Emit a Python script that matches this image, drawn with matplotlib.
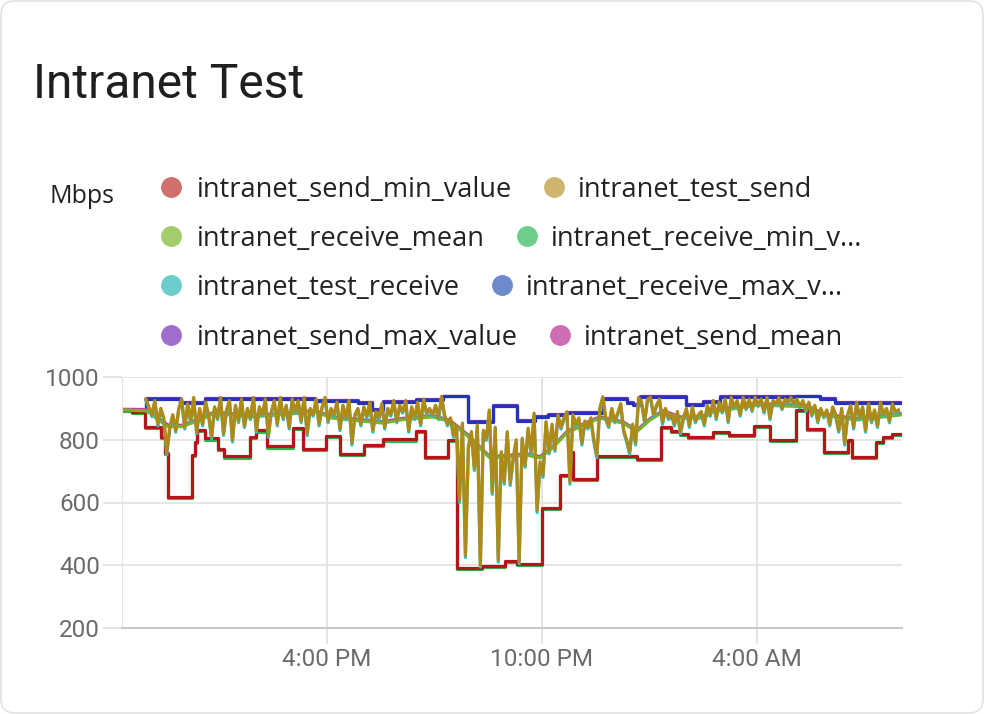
"""Intranet Test throughput chart (Mbps over ~22 hours)."""

import matplotlib

matplotlib.use("Agg")
import matplotlib.pyplot as plt
import matplotlib.dates as mdates
from matplotlib.lines import Line2D
from matplotlib.patches import FancyBboxPatch
import pandas as pd

BASE_DAY = "2024-03-05"

# step series: breakpoints (HH:MM, times before 10:00 belong to the next day)
send_min_times = [
    "10:17", "10:33", "10:55", "11:23", "11:29", "11:34", "12:15", "12:19", "12:22",
    "12:36", "12:57", "13:08", "13:51", "14:02", "14:20", "15:03", "15:20", "15:59",
    "16:22", "17:02", "17:34", "18:30", "18:44", "19:23", "19:38", "20:19", "20:59",
    "21:18", "22:00", "22:31", "22:47", "22:52", "23:32", "00:39", "01:20", "01:37",
    "01:51", "02:04", "02:46", "03:13", "03:55", "04:22", "05:05", "05:24", "05:52",
    "06:32", "06:39", "07:20", "07:31", "07:46", "08:00",
]
send_min_value = [
    895, 889, 842, 809, 757, 617, 751, 794, 831,
    804, 770, 747, 810, 830, 779, 838, 771, 812,
    754, 783, 801, 829, 746, 799, 391, 397, 413,
    404, 582, 688, 762, 675, 748, 739, 842, 829,
    818, 808, 826, 815, 844, 799, 895, 834, 762,
    799, 746, 794, 809, 818, 818,
]
receive_min_value = [
    893, 886, 838, 805, 753, 613, 747, 790, 827,
    800, 766, 743, 806, 826, 775, 834, 767, 808,
    750, 779, 797, 825, 742, 795, 388, 393, 409,
    400, 578, 684, 758, 671, 744, 735, 838, 825,
    814, 804, 822, 811, 840, 795, 891, 830, 758,
    795, 742, 790, 805, 814, 814,
]

max_times = [
    "10:17", "10:58", "11:54", "12:36", "15:40", "16:52", "17:15", "17:34", "18:30",
    "19:14", "19:57", "20:38", "21:18", "21:48", "22:10", "22:41", "23:42", "00:22",
    "00:32", "00:44", "02:02", "02:30", "02:58", "05:06", "05:45", "06:11", "08:00",
]
receive_max_value = [
    895, 930, 918, 930, 924, 918, 895, 921, 927,
    939, 858, 909, 861, 872, 879, 886, 930, 918,
    911, 936, 911, 921, 935, 939, 929, 916, 916,
]
send_max_value = [
    897, 933, 921, 933, 927, 921, 898, 924, 930,
    941, 861, 912, 864, 875, 882, 889, 933, 921,
    914, 939, 914, 924, 938, 941, 932, 919, 919,
]

# mean series: points joined by straight segments
mean_times = [
    "10:17", "10:57", "11:04", "11:20", "11:34", "11:57", "12:27", "12:52", "13:48",
    "14:45", "15:40", "16:10", "17:07", "17:34", "18:02", "18:57", "19:26", "19:54",
    "20:33", "21:35", "21:57", "22:18", "22:42", "23:04", "23:37", "00:16", "00:39",
    "01:01", "01:23", "01:51", "02:30", "02:46", "03:43", "04:00", "05:24", "05:51",
    "06:47", "08:00",
]
receive_mean = [
    895, 892, 885, 860, 842, 842, 862, 885, 873,
    880, 889, 869, 858, 853, 863, 873, 858, 815,
    742, 751, 742, 774, 822, 842, 869, 853, 826,
    863, 889, 869, 869, 889, 905, 911, 905, 879,
    863, 879,
]
send_mean = [
    897, 896, 889, 865, 847, 846, 866, 889, 877,
    884, 893, 873, 862, 857, 867, 877, 862, 819,
    746, 755, 746, 778, 826, 846, 873, 857, 830,
    867, 893, 873, 873, 893, 909, 915, 909, 883,
    867, 883,
]

# test samples every 5 minutes starting 10:57
test_start = "10:57"
test_send = [
    930, 905, 880, 925, 850, 900, 870, 760, 840, 880, 830, 900,
    930, 840, 915, 860, 935, 825, 900, 850, 920, 880, 810, 905,
    870, 935, 820, 895, 925, 800, 910, 860, 930, 845, 900, 870,
    935, 830, 905, 880, 930, 815, 890, 925, 850, 935, 870, 910,
    840, 930, 890, 925, 860, 935, 820, 900, 880, 930, 850, 905,
    935, 860, 900, 880, 920, 835, 910, 870, 925, 790, 880, 900,
    850, 905, 875, 920, 830, 890, 870, 915, 840, 900, 880, 925,
    860, 910, 890, 925, 830, 905, 870, 920, 850, 930, 885, 900,
    880, 910, 870, 938, 880, 850, 870, 815, 845, 608, 853, 433,
    780, 826, 710, 847, 401, 830, 805, 895, 634, 840, 417, 762,
    666, 826, 662, 742, 800, 412, 805, 720, 837, 760, 885, 576,
    730, 688, 858, 762, 850, 770, 879, 840, 870, 889, 666, 880,
    850, 870, 790, 860, 840, 870, 800, 751, 900, 937, 870, 845,
    900, 860, 885, 915, 830, 800, 762, 850, 790, 935, 920, 860,
    930, 935, 880, 910, 930, 855, 900, 870, 880, 850, 890, 826,
    870, 900, 845, 905, 860, 880, 890, 850, 910, 880, 925, 870,
    920, 890, 930, 860, 935, 905, 925, 880, 935, 900, 930, 895,
    935, 910, 930, 890, 935, 870, 925, 915, 935, 900, 930, 920,
    935, 915, 930, 905, 925, 895, 920, 880, 910, 860, 900, 875,
    895, 850, 905, 880, 830, 900, 790, 880, 910, 840, 920, 870,
    905, 830, 915, 860, 895, 845, 920, 880, 900, 860, 915, 890, 895,
]
test_receive = [
    926, 900, 874, 921, 844, 896, 864, 752, 834, 876, 824, 896,
    926, 834, 911, 855, 931, 819, 896, 844, 916, 875, 803, 901,
    864, 931, 814, 891, 921, 793, 906, 854, 926, 839, 896, 864,
    931, 824, 901, 875, 926, 808, 886, 921, 844, 931, 864, 906,
    834, 926, 885, 921, 854, 931, 813, 896, 875, 926, 844, 901,
    931, 854, 896, 875, 916, 829, 906, 864, 921, 783, 875, 896,
    844, 901, 869, 916, 824, 885, 864, 911, 834, 896, 875, 921,
    854, 906, 885, 921, 824, 901, 864, 916, 844, 926, 880, 896,
    875, 906, 864, 934, 875, 844, 864, 808, 839, 600, 848, 425,
    773, 820, 702, 842, 394, 824, 798, 891, 626, 834, 410, 755,
    658, 820, 654, 735, 793, 405, 798, 712, 831, 753, 880, 568,
    722, 680, 853, 755, 844, 763, 874, 834, 864, 884, 658, 875,
    844, 864, 783, 854, 834, 864, 793, 743, 896, 933, 864, 839,
    896, 854, 880, 911, 824, 793, 754, 844, 783, 931, 916, 854,
    926, 931, 875, 906, 926, 849, 896, 864, 875, 844, 885, 819,
    864, 896, 839, 901, 854, 875, 885, 844, 906, 875, 921, 864,
    916, 885, 926, 854, 931, 901, 921, 875, 931, 896, 926, 890,
    931, 906, 926, 885, 931, 864, 921, 911, 931, 896, 926, 916,
    931, 911, 926, 901, 921, 890, 916, 875, 906, 854, 896, 870,
    890, 844, 901, 875, 824, 896, 783, 875, 906, 834, 916, 864,
    901, 824, 911, 854, 890, 839, 916, 875, 896, 854, 911, 885, 890,
]

legend_labels = [
    ("intranet_send_min_value", "intranet_test_send"),
    ("intranet_receive_mean", "intranet_receive_min_v..."),
    ("intranet_test_receive", "intranet_receive_max_v..."),
    ("intranet_send_max_value", "intranet_send_mean"),
]
legend_colors = [
    ("#d0706d", "#cfb46d"),
    ("#a3cd6d", "#6dcd8a"),
    ("#6dcdcd", "#6d8acd"),
    ("#a06dcd", "#cd6db5"),
]

y_ticks = [200, 400, 600, 800, 1000]
x_tick_times = ["16:00", "22:00", "04:00"]


def to_times(labels):
    out = []
    for lab in labels:
        ts = pd.Timestamp(f"{BASE_DAY} {lab}")
        if ts.hour < 10:
            ts += pd.Timedelta(days=1)
        out.append(ts)
    return out


def fmt_time(x, pos=None):
    dt = mdates.num2date(x)
    h = dt.hour % 12 or 12
    return f"{h}:{dt.minute:02d} {'AM' if dt.hour < 12 else 'PM'}"


W, H = 984, 714
fig = plt.figure(figsize=(W / 100, H / 100), dpi=100)
fig.patch.set_facecolor("white")
card = FancyBboxPatch((1, 1), W - 2, H - 2, boxstyle="round,pad=0,rounding_size=14",
                      transform=None, facecolor="none", edgecolor="#e2e2e2",
                      linewidth=1.2, zorder=-1)
fig.add_artist(card)

title_font = ["Roboto", "DejaVu Sans"]
font = ["Open Sans", "DejaVu Sans"]
fig.text(33 / W, 1 - 98 / H, "Intranet Test", fontsize=34.5, color="#1f1f1f",
         family=title_font, va="baseline", ha="left")

ax = fig.add_axes([122 / W, 1 - 628 / H, (902 - 122) / W, (628 - 377) / H])

mt = to_times(max_times)
st = to_times(send_min_times)
mnt = to_times(mean_times)
tt = pd.date_range(f"{BASE_DAY} {test_start}", periods=len(test_send), freq="5min")

lw = 2.3
ax.plot(mt, send_max_value, drawstyle="steps-post", color="#7b2bc0", lw=lw)
ax.plot(mt, receive_max_value, drawstyle="steps-post", color="#2434b8", lw=lw)
ax.plot(st, receive_min_value, drawstyle="steps-post", color="#2fb850", lw=lw)
ax.plot(st, send_min_value, drawstyle="steps-post", color="#b3151b", lw=lw)
ax.plot(mnt, send_mean, color="#c43aa6", lw=lw)
ax.plot(mnt, receive_mean, color="#76b52a", lw=lw)
ax.plot(tt, test_receive, color="#2cc0c4", lw=lw)
ax.plot(tt, test_send, color="#b08a16", lw=lw)

ax.set_ylim(200, 1000)
ax.set_xlim(pd.Timestamp(f"{BASE_DAY} 10:17"), pd.Timestamp(f"{BASE_DAY} 08:03") + pd.Timedelta(days=1))
ax.set_yticks(y_ticks)
ax.set_xticks(to_times(x_tick_times))
ax.xaxis.set_major_formatter(plt.FuncFormatter(fmt_time))

ax.grid(True, color="#e3e3e3", lw=1.3)
ax.set_axisbelow(True)
for side in ["top", "right"]:
    ax.spines[side].set_visible(False)
ax.spines["left"].set_color("#e3e3e3")
ax.spines["bottom"].set_color("#c9c9c9")
ax.spines["bottom"].set_linewidth(1.5)
ax.tick_params(axis="y", length=14, width=1.3, color="#e3e3e3", pad=2,
               labelsize=17.5, labelcolor="#6b6b6b")
ax.tick_params(axis="x", length=11.5, width=1.3, color="#e3e3e3", pad=3,
               labelsize=17.5, labelcolor="#6b6b6b")
for lab in ax.get_xticklabels() + ax.get_yticklabels():
    lab.set_family(title_font)

# legend
fig.text(49 / W, 1 - 203 / H, "Mbps", fontsize=18, color="#222222", family=font,
         va="baseline", ha="left")
renderer = fig.canvas.get_renderer()
row_y = [197, 246, 295, 345]
for (l1, l2), (c1, c2), yb in zip(legend_labels, legend_colors, row_y):
    yd = 1 - (yb - 10) / H
    fig.add_artist(Line2D([171 / W], [yd], marker="o", ms=14, color=c1, lw=0))
    t1 = fig.text(197 / W, 1 - yb / H, l1, fontsize=19.5, color="#222222", family=font,
                  va="baseline", ha="left")
    x_end = t1.get_window_extent(renderer).x1
    fig.add_artist(Line2D([(x_end + 42) / W], [yd], marker="o", ms=14, color=c2, lw=0))
    fig.text((x_end + 66) / W, 1 - yb / H, l2, fontsize=19.5, color="#222222", family=font,
             va="baseline", ha="left")

fig.savefig("out.png", dpi=100, facecolor="white")
